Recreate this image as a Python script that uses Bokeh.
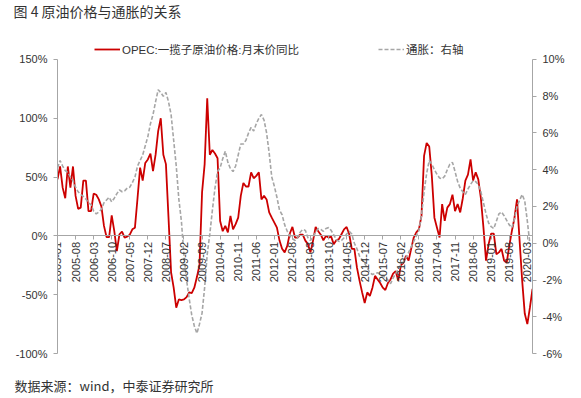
import math
from bokeh.plotting import figure
from bokeh.models import (Range1d, LinearAxis, FixedTicker, PrintfTickFormatter,
                          Title, Legend, LegendItem, ColumnDataSource)
from bokeh.embed import file_html
from bokeh.resources import INLINE

nan = float("nan")

# ---- data (monthly, 2005-01 .. 2020-05) ----
opec_yoy = [
    48, 59, 41, 32, 59, 41, 59, 34, 23, 24, 47, 47,
    21, 21, 36, 35, 31, 25, 8.5, -1, -1, 17.5, 4, -13,
    1.4, 3.7, -1.4, -0.6, 1, 5.6, 7, 32, 58, 47, 62, 65,
    70, 55, 69, 89, 100, 69, 61, 15.5, -31, -44, -61, -54,
    -54.5, -54, -52, -48, -48.6, -44, -35, -25, 37, 61, 117, 69,
    73, 70, 66, 12.7, 4, 8.5, 3, 17, 5.6, 10, 15.5, 34,
    45, 42, 42, 54, 49, 51, 54, 31, 34, 31, 20, 15.5,
    11.3, 7, -4, -11, -14, -8.5, 2, 7.6, -1.4, -1.4, 1, 1,
    -4, -7, -14, -4, 7.6, 4, 1, -3.7, 0, -1.4, -0.6, -7,
    -3.7, -2.8, 1.4, 5.6, 7.6, 1.4, -11, -11, -27, -38, -48, -57,
    -48, -51, -44, -34, -37, -40, -44, -46, -40, -37, -32, -30,
    -38, -25, -23, -17, -21, -11, -1.4, 3, 5.6, 17, 68, 79,
    76, 51, 15.5, 7, -1.4, 27, 12.7, 24, 27, 35, 21, 27,
    20, 32, 47, 52, 65, 47, 54, 48, 32, 7, -21, -7,
    2, 2, -15.5, -14, -11, -21, -23, -8.5, 4, 15, 31, -4,
    -38, -66, -75, -61, -45,
]

cpi_yoy = [
    4.1, 4.5, 4.2, 3.95, 3.85, 3.6, 3.4, 3.05, 2.8, 2.65, 2.55, 2.4,
    2.2, 2.1, 1.75, 1.6, 1.7, 1.85, 2.2, 2.35, 2.5, 2.25, 2.45, 2.7,
    2.9, 2.8, 2.85, 3.0, 3.05, 3.3, 3.6, 4.2, 4.5, 4.8, 5.3, 5.8,
    6.5, 7.0, 7.7, 8.35, 8.2, 8.0, 8.2, 7.7, 7.0, 5.6, 4.2, 2.4,
    1.2, -0.7, -2.0, -3.0, -3.9, -4.5, -4.9, -4.4, -3.8, -2.4, -0.6, 0.5,
    1.8, 3.0, 3.9, 4.1, 4.6, 5.0, 4.4, 4.05, 3.9, 4.2, 4.8, 5.4,
    5.4, 5.6, 6.0, 6.3, 6.1, 6.5, 6.8, 7.0, 6.7, 6.0, 4.9, 3.6,
    3.1, 2.5, 1.8, 1.55, 1.0, 0.65, 0.4, 0.25, 0.15, 0.3, 0.6, 0.75,
    0.7, 0.3, 0.15, 0.35, 0.6, 0.8, 0.75, 0.65, 0.8, 0.85, 0.7, 0.45,
    0.2, 0.1, 0.15, 0.3, 0.5, 0.65, 0.5, 0.0, -0.3, -0.7, -0.9, -1.1,
    -1.35, -1.6, -1.7, -1.65, -1.6, -1.7, -1.8, -1.85, -2.0, -2.2, -1.9, -1.65,
    -1.4, -1.2, -1.0, -0.8, -0.5, -0.2, 0.1, 0.4, 0.7, 1.5, 2.8, 3.8,
    4.5, 4.3, 4.0, 3.75, 3.55, 3.5, 3.65, 4.0, 4.3, 4.4, 3.9, 3.35,
    3.0, 2.8, 2.65, 2.95, 3.2, 3.4, 3.35, 3.2, 2.8, 2.2, 1.6, 1.1,
    0.9, 0.8, 1.2, 1.6, 1.7, 1.5, 1.25, 1.0, 0.85, 1.3, 2.0, 2.35,
    2.65, 2.3, 1.2, -0.05, nan,
]

tick_labels = ["2005-01", "2005-08", "2006-03", "2006-10", "2007-05", "2007-12",
               "2008-07", "2009-02", "2009-09", "2010-04", "2010-11", "2011-06",
               "2012-01", "2012-08", "2013-03", "2013-10", "2014-05", "2014-12",
               "2015-07", "2016-02", "2016-09", "2017-04", "2017-11", "2018-06",
               "2019-01", "2019-08", "2020-03"]

left_ticks = [-100, -50, 0, 50, 100, 150]
right_ticks = [-6, -4, -2, 0, 2, 4, 6, 8, 10]

series_labels = ["OPEC:一揽子原油价格:月末价同比", "通胀：右轴"]
title_text = "图 4 原油价格与通胀的关系"
source_text = "数据来源：wind，中泰证券研究所"

def month_index(lbl):
    y, m = lbl.split("-")
    return (int(y) - 2005) * 12 + int(m) - 1

tick_pos = [month_index(t) for t in tick_labels]
n = len(opec_yoy)
src = ColumnDataSource(dict(x=list(range(n)), opec=opec_yoy, cpi=cpi_yoy))

# ---- layout constants (pixels) ----
W, H = 581, 398
FRAME_TOP, FRAME_BOT = 21, 375          # plotting frame (includes legend row)
AX_TOP, AX_BOT = 58, 353                # extent of the value axes
BORDER_L, BORDER_R = 57, 49
LEGEND_BOTTOM = 57

def padded(lo, hi):
    ppu = (AX_BOT - AX_TOP) / (hi - lo)
    return Range1d(lo - (FRAME_BOT - AX_BOT) / ppu, hi + (AX_TOP - FRAME_TOP) / ppu)

TXT = "#333333"
AX = "#a6a6a6"
NUMFONT = "Liberation Sans"
CJK = "Noto Sans CJK SC"

p = figure(width=W, height=H, x_range=Range1d(0, n - 1),
           y_range=padded(left_ticks[0], left_ticks[-1]),
           output_backend="svg", toolbar_location=None,
           min_border_left=BORDER_L, min_border_right=BORDER_R,
           min_border_top=FRAME_TOP, min_border_bottom=H - FRAME_BOT)
p.extra_y_ranges = {"right": padded(right_ticks[0], right_ticks[-1])}
p.outline_line_color = None
p.xgrid.visible = False
p.ygrid.visible = False
p.background_fill_color = "white"
p.border_fill_color = "white"

r1 = p.line("x", "opec", source=src, line_color="#cc0000", line_width=1.8)
r2 = p.line("x", "cpi", source=src, y_range_name="right", line_color="#a6a6a6",
            line_width=1.6, line_dash="4 2")

xa = p.xaxis[0]
xa.ticker = FixedTicker(ticks=tick_pos)
xa.major_label_overrides = {pos: lbl for pos, lbl in zip(tick_pos, tick_labels)}
xa.major_label_orientation = math.pi / 2
xa.fixed_location = 0
xa.axis_line_color = AX
xa.major_tick_line_color = AX
xa.major_tick_out = 4
xa.major_tick_in = 0
xa.minor_tick_line_color = None
xa.major_label_standoff = 2
xa.major_label_text_font = NUMFONT
xa.major_label_text_font_size = "11px"
xa.major_label_text_color = TXT

def style_y(ax):
    ax.axis_line_color = AX
    ax.major_tick_line_color = AX
    ax.major_tick_out = 4
    ax.major_tick_in = 0
    ax.minor_tick_line_color = None
    ax.major_label_standoff = 6
    ax.major_label_text_font = NUMFONT
    ax.major_label_text_font_size = "11px"
    ax.major_label_text_color = TXT

ya = p.yaxis[0]
ya.ticker = FixedTicker(ticks=left_ticks)
ya.formatter = PrintfTickFormatter(format="%d%%")
ya.bounds = (left_ticks[0], left_ticks[-1])
style_y(ya)

ra = LinearAxis(y_range_name="right", ticker=FixedTicker(ticks=right_ticks),
                formatter=PrintfTickFormatter(format="%d%%"),
                bounds=(right_ticks[0], right_ticks[-1]))
style_y(ra)
p.add_layout(ra, "right")

def make_legend(label, rend, loc):
    lg = Legend(items=[LegendItem(label=label, renderers=[rend])], location=loc,
                orientation="horizontal", background_fill_alpha=0, border_line_color=None,
                padding=0, margin=0, glyph_width=26, glyph_height=12, label_standoff=2,
                label_text_font=f"{NUMFONT}, {CJK}", label_text_font_size="11.5px",
                label_text_color=TXT)
    p.add_layout(lg)

legend_y = FRAME_BOT - LEGEND_BOTTOM
make_legend(series_labels[0], r1, (37, legend_y))
make_legend(series_labels[1], r2, (321, legend_y))

p.title.text = title_text
p.title.align = "left"
p.title.vertical_align = "top"
p.title.offset = -44
p.title.standoff = 0
p.title.text_font = CJK
p.title.text_font_size = "14px"
p.title.text_font_style = "normal"
p.title.text_color = "#333333"

p.add_layout(Title(text=source_text, align="left", vertical_align="top", offset=-43,
                   standoff=0, text_font=CJK, text_font_size="13px",
                   text_font_style="normal", text_color="#333333"), "below")

open("out.html", "w").write(file_html(p, INLINE))
